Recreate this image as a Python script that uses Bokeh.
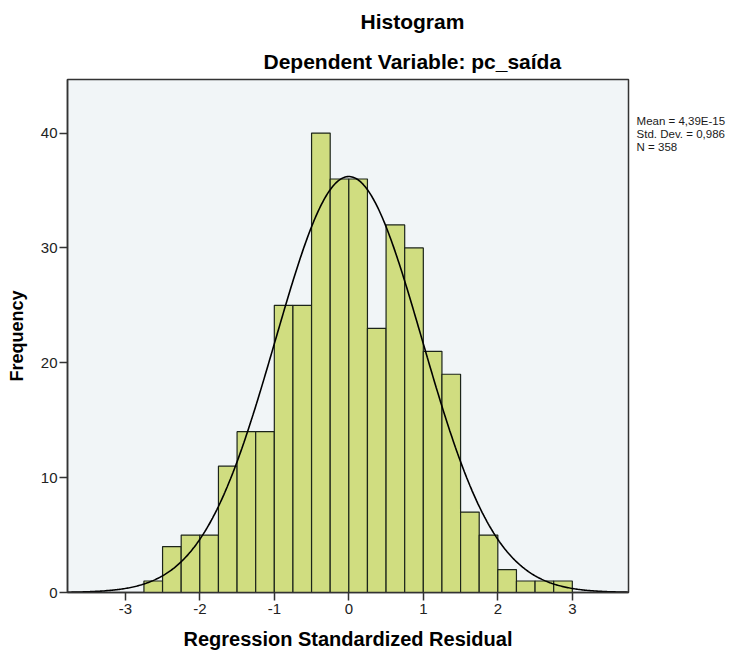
import numpy as np
from bokeh.plotting import figure
from bokeh.models import Range1d, FixedTicker, Label, Title
from bokeh.layouts import row
from bokeh.embed import file_html
from bokeh.resources import INLINE

# ---- data ----
bin_left = [-2.75, -2.5, -2.25, -2.0, -1.75, -1.5, -1.25, -1.0, -0.75, -0.5, -0.25,
            0.0, 0.25, 0.5, 0.75, 1.0, 1.25, 1.5, 1.75, 2.0, 2.25, 2.5, 2.75]
counts = [1, 4, 5, 5, 11, 14, 14, 25, 25, 40, 36,
          36, 23, 32, 30, 21, 19, 7, 5, 2, 1, 1, 1]
bin_width = 0.25
mean = 4.39e-15
std_dev = 0.986
n_obs = 358
x_ticks = [-3, -2, -1, 0, 1, 2, 3]
y_ticks = [0, 10, 20, 30, 40]
title_text = "Histogram"
subtitle_text = "Dependent Variable: pc_saída"
stats_lines = ["Mean = 4,39E-15", "Std. Dev. = 0,986", "N = 358"]
x_title = "Regression Standardized Residual"
y_title = "Frequency"

X0, X1 = -3.776, 3.754
Y0, Y1 = 0, 44.66
FONT = "Liberation Sans"

yr = Range1d(Y0, Y1)
p = figure(width=630, height=656, output_backend="svg", toolbar_location=None,
           x_range=Range1d(X0, X1), y_range=yr,
           min_border_left=67, min_border_right=2,
           min_border_top=78, min_border_bottom=64)
p.title.visible = False
p.background_fill_color = "#f1f5f7"
p.border_fill_color = "white"
p.outline_line_color = "#333333"
p.outline_line_width = 1.5
p.xgrid.visible = False
p.ygrid.visible = False

for ax in (p.xaxis[0], p.yaxis[0]):
    ax.major_tick_out = 8
    ax.major_tick_in = 0
    ax.minor_tick_out = 0
    ax.minor_tick_in = 0
    ax.axis_line_color = "#333333"
    ax.axis_line_width = 1.5
    ax.major_tick_line_color = "#333333"
    ax.major_tick_line_width = 1.5
    ax.major_label_text_font = FONT
    ax.major_label_text_font_size = "15px"
    ax.major_label_text_color = "#222222"
    ax.axis_label_text_font = FONT
    ax.axis_label_text_font_style = "bold"
    ax.axis_label_text_color = "black"

p.xaxis.axis_label_text_font_size = "20px"
p.yaxis.axis_label_text_font_size = "18px"
p.xaxis.ticker = FixedTicker(ticks=x_ticks)
p.yaxis.ticker = FixedTicker(ticks=y_ticks)
p.xaxis.major_label_overrides = {t: str(t) for t in x_ticks}
p.yaxis.major_label_overrides = {t: str(t) for t in y_ticks}
p.xaxis.major_label_standoff = 3
p.yaxis.major_label_standoff = 2
p.xaxis.axis_label = x_title
p.yaxis.axis_label = y_title
p.xaxis.axis_label_standoff = 11
p.yaxis.axis_label_standoff = 11

# bars
bin_right = [l + bin_width for l in bin_left]
p.quad(left=bin_left, right=bin_right, bottom=0, top=counts,
       fill_color="#d0dd80", line_color="#1c241a", line_width=1.2)

# fitted normal curve from the displayed statistics
xs = np.linspace(X0, X1, 500)
scale = n_obs * bin_width / (std_dev * np.sqrt(2 * np.pi))
ys = scale * np.exp(-0.5 * ((xs - mean) / std_dev) ** 2)
p.line(xs, ys, line_color="black", line_width=1.6)

# titles (first added sits closest to the frame)
p.add_layout(Title(text=subtitle_text, align="left", offset=196, standoff=14,
                   text_font=FONT, text_font_style="bold", text_font_size="21px",
                   text_color="black"), "above")
p.add_layout(Title(text=title_text, align="left", offset=293, standoff=15,
                   text_font=FONT, text_font_style="bold", text_font_size="21px",
                   text_color="black"), "above")

# side panel holding the statistics text
side = figure(width=122, height=656, output_backend="svg", toolbar_location=None,
              x_range=Range1d(0, 1), y_range=yr,
              x_axis_location=None, y_axis_location=None,
              min_border_left=0, min_border_right=0,
              min_border_top=78, min_border_bottom=64)
side.title.visible = False
side.outline_line_color = None
side.background_fill_color = "white"
side.border_fill_color = "white"
side.xgrid.visible = False
side.ygrid.visible = False
for txt, yy in zip(stats_lines, [41.05, 39.92, 38.79]):
    side.add_layout(Label(x=0.05, y=yy, text=txt, text_align="left",
                          text_baseline="alphabetic", text_font=FONT,
                          text_font_size="11.5px", text_color="#1a1a1a"))

open("out.html", "w").write(file_html(row(p, side), INLINE))
